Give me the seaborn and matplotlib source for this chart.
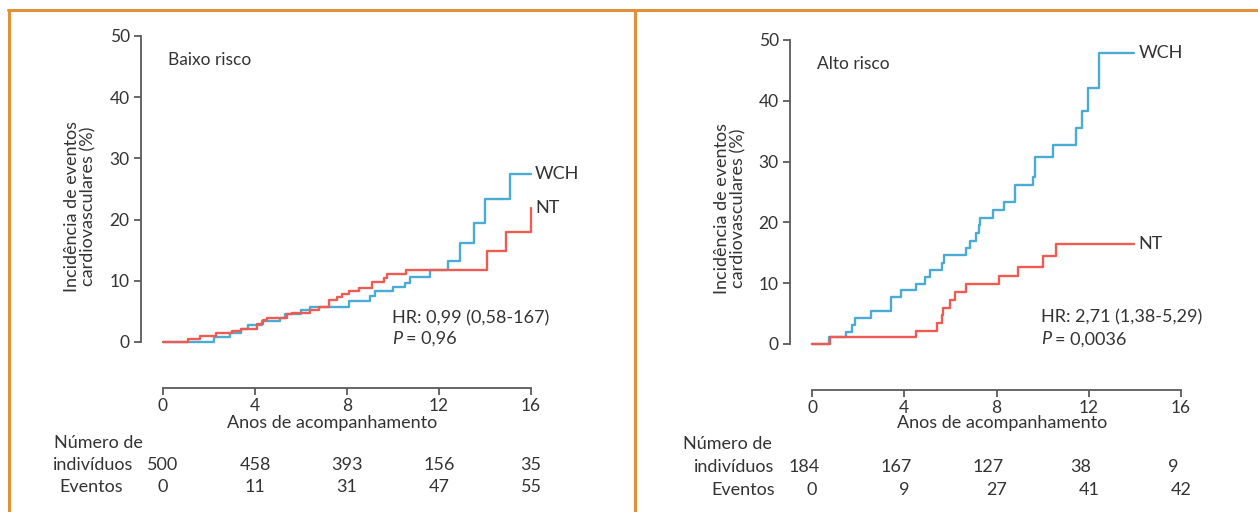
import numpy as np
import pandas as pd
import seaborn as sns
import matplotlib.pyplot as plt
from matplotlib.lines import Line2D
from matplotlib import transforms

# ---- data (years, cumulative incidence %) ----
low_wch_t = [0, 2.2, 2.9, 3.4, 3.7, 4.3, 5.1, 5.3, 6.0, 6.4, 8.1, 9.0, 9.2, 10.0, 10.5,
             10.75, 11.6, 12.4, 12.9, 13.5, 14.0, 15.1, 16.0]
low_wch_y = [0, 0.8, 1.5, 2.2, 2.7, 3.5, 4.0, 4.5, 5.2, 5.7, 6.7, 7.5, 8.4, 9.0, 9.7,
             10.6, 11.7, 13.2, 16.2, 19.5, 23.3, 27.4, 27.4]
low_nt_t = [0, 1.1, 1.6, 2.3, 3.0, 3.4, 4.1, 4.35, 4.5, 5.4, 5.6, 6.4, 6.8, 7.2, 7.55,
            7.8, 8.1, 8.5, 9.1, 9.6, 9.75, 10.55, 14.1, 14.9, 16.0]
low_nt_y = [0, 0.5, 0.9, 1.4, 1.8, 2.2, 3.0, 3.6, 3.9, 4.5, 4.7, 5.2, 5.8, 6.8, 7.4,
            7.9, 8.3, 8.8, 9.8, 10.5, 11.1, 11.7, 14.8, 18.0, 21.9]

high_wch_t = [0, 0.73, 1.48, 1.74, 1.86, 2.57, 3.43, 3.86, 4.49, 4.9, 5.13, 5.65, 5.74,
              6.66, 6.87, 7.13, 7.22, 7.3, 7.86, 8.31, 8.82, 9.6, 9.69, 10.47, 11.44,
              11.7, 11.95, 12.43, 13.97]
high_wch_y = [0, 1.1, 2.0, 3.2, 4.3, 5.4, 7.7, 8.8, 9.9, 11.1, 12.2, 13.3, 14.6,
              15.8, 17.0, 18.2, 19.6, 20.8, 22.1, 23.3, 26.1, 27.5, 30.8, 32.8, 35.5,
              38.3, 42.1, 47.8, 47.8]
high_nt_t = [0, 0.8, 4.52, 5.44, 5.65, 5.7, 6.0, 6.2, 6.66, 8.09, 8.92, 10.0, 10.6, 13.97]
high_nt_y = [0, 1.1, 2.2, 3.4, 4.8, 6.0, 7.2, 8.5, 9.8, 11.2, 12.7, 14.5, 16.4, 16.4]

table_years = [0, 4, 8, 12, 16]
low_n = [500, 458, 393, 156, 35]
low_events = [0, 11, 31, 47, 55]
high_n = [184, 167, 127, 38, 9]
high_events = [0, 9, 27, 41, 42]

BLUE = "#4aabd4"
RED = "#ee5b52"
ORANGE = "#e1913a"
TXT = "#333333"
AXC = "#5a5a5a"

W, H = 1258, 512


def fx(px):
    return px / W


def fy(py):
    return 1 - py / H


def make_df(t, y, group):
    return pd.DataFrame({"t": t, "y": y, "grupo": group})


def draw_panel(fig, rect, wch, nt, title, hr, p, ylab_xy, xlab_x, tab, n_dx):
    ax = fig.add_axes(rect)
    df = pd.concat([make_df(*wch, "WCH"), make_df(*nt, "NT")])
    sns.lineplot(data=df, x="t", y="y", hue="grupo", palette={"WCH": BLUE, "NT": RED},
                 drawstyle="steps-post", linewidth=1.7, legend=False, ax=ax,
                 estimator=None, sort=False)
    for line in ax.lines:
        line.set_clip_on(False)
    ax.set_xlim(0, 16)
    ax.set_ylim(0, 50)
    ax.set_xticks([0, 4, 8, 12, 16])
    ax.set_yticks([0, 10, 20, 30, 40, 50])
    for s in ["top", "right"]:
        ax.spines[s].set_visible(False)
    ax.spines["left"].set_position(("outward", 16))
    ax.spines["bottom"].set_position(("outward", 33))
    ax.spines["left"].set_bounds(0, 50)
    ax.spines["bottom"].set_bounds(0, 16)
    for s in ["left", "bottom"]:
        ax.spines[s].set_color(AXC)
        ax.spines[s].set_linewidth(1.3)
    ax.tick_params(bottom=True, left=True, direction="out", colors=AXC, labelcolor=TXT,
                   labelsize=12.5, width=1.3, length=5)
    ax.tick_params(axis="x", pad=2)
    ax.tick_params(axis="y", pad=3)
    ax.set_xlabel("")
    ax.set_ylabel("")
    ax.grid(False)
    ax.set_facecolor("none")

    ax.text(0.2, 46, title, fontsize=12.5, color=TXT, va="center")
    ax.annotate("WCH", xy=(wch[0][-1], wch[1][-1]), xytext=(3, 0),
                textcoords="offset points", va="center", fontsize=13, color=TXT)
    ax.annotate("NT", xy=(nt[0][-1], nt[1][-1]), xytext=(3, 0),
                textcoords="offset points", va="center", fontsize=13, color=TXT)
    ax.text(9.95, hr[1], hr[0], fontsize=13, color=TXT, va="center")
    ax.text(9.95, p[1], "P", fontsize=13, color=TXT, va="center", style="italic")
    ax.text(9.95, p[1], p[0], fontsize=13, color=TXT, va="center",
            transform=transforms.offset_copy(ax.transData, fig=fig, x=14, units="dots"))

    fig.text(fx(ylab_xy[0]), fy(ylab_xy[1]), "Incidência de eventos\ncardiovasculares (%)",
             rotation=90, ha="center", va="center", fontsize=13, color=TXT,
             multialignment="center", linespacing=1.0)

    bt = transforms.blended_transform_factory(ax.transData, fig.transFigure)
    ax.text(xlab_x, fy(423), "Anos de acompanhamento", transform=bt, ha="center",
            va="center", fontsize=13, color=TXT)

    (lab_pos, n_vals, ev_vals, row_y) = tab
    for txt, (px, py) in zip(["Número de", "indivíduos", "Eventos"], lab_pos):
        fig.text(fx(px), fy(py), txt, ha="center", va="center", fontsize=13, color=TXT)
    for yr, n, e in zip(table_years, n_vals, ev_vals):
        ax.text(yr + n_dx, fy(row_y[0]), str(n), transform=bt, ha="center", va="center",
                fontsize=13, color=TXT)
        ax.text(yr, fy(row_y[1]), str(e), transform=bt, ha="center", va="center",
                fontsize=13, color=TXT)
    return ax


sns.set_theme(style="white")
plt.rcParams["font.family"] = ["Lato", "DejaVu Sans"]

fig = plt.figure(figsize=(W / 100, H / 100), dpi=100)

draw_panel(fig, [fx(163), fy(342), fx(531 - 163), (342 - 36) / H],
           (low_wch_t, low_wch_y), (low_nt_t, low_nt_y),
           "Baixo risco", ("HR: 0,99 (0,58-167)", 3.9), ("= 0,96", 0.5),
           (80, 206), 7.35,
           ([(98, 443), (93, 465), (91, 487)], low_n, low_events, (465, 487)), 0.0)

draw_panel(fig, [fx(812), fy(344), fx(1181 - 812), (344 - 40) / H],
           (high_wch_t, high_wch_y), (high_nt_t, high_nt_y),
           "Alto risco", ("HR: 2,71 (1,38-5,29)", 4.3), ("= 0,0036", 0.8),
           (730, 208), 8.24,
           ([(727, 444), (734, 467), (743, 490)], high_n, high_events, (467, 490)), -0.35)

# orange frame
for xs, ys in [((8, W), (10, 10)), ((9, 9), (10, H)), ((635, 635), (10, H))]:
    fig.add_artist(Line2D([fx(x) for x in xs], [fy(y) for y in ys],
                          color=ORANGE, linewidth=2.2, transform=fig.transFigure))

fig.savefig("out.png", dpi=100)
